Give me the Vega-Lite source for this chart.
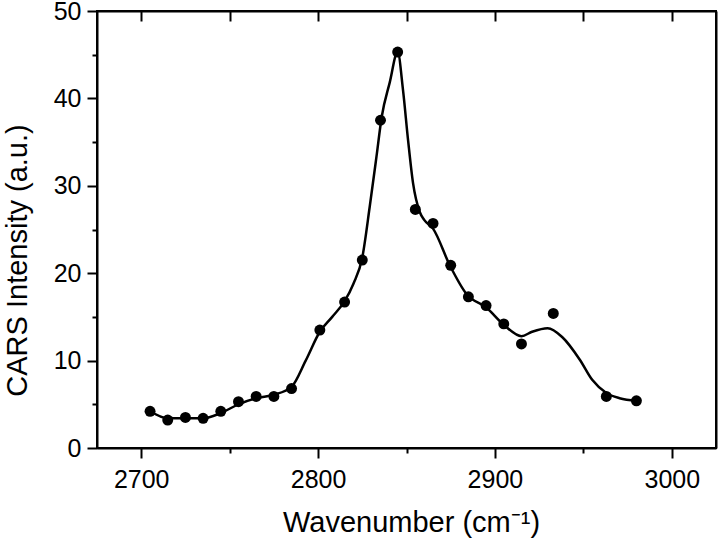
{
  "$schema": "https://vega.github.io/schema/vega-lite/v6.json",
  "width": 619,
  "height": 437,
  "autosize": {"type": "none"},
  "padding": {"left": 97, "top": 11, "right": 4, "bottom": 92},
  "background": "white",
  "config": {
    "view": {"stroke": "black", "strokeWidth": 2},
    "font": "Liberation Sans",
    "axis": {
      "domainColor": "black", "domainWidth": 2, "tickColor": "black", "tickWidth": 2,
      "labelColor": "black", "titleColor": "black", "labelFont": "Liberation Sans", "titleFont": "Liberation Sans",
      "labelFontSize": 25, "titleFontSize": 29, "titleFontWeight": "normal", "grid": false
    }
  },
  "datasets": {
    "pts": [
      {"x": 2705, "y": 4.2}, {"x": 2715, "y": 3.2}, {"x": 2725, "y": 3.5}, {"x": 2735, "y": 3.4},
      {"x": 2745, "y": 4.2}, {"x": 2755, "y": 5.3}, {"x": 2765, "y": 5.9}, {"x": 2775, "y": 5.9},
      {"x": 2785, "y": 6.8}, {"x": 2801, "y": 13.5}, {"x": 2815, "y": 16.7}, {"x": 2825, "y": 21.5},
      {"x": 2835.3, "y": 37.5}, {"x": 2845, "y": 45.3}, {"x": 2855, "y": 27.3}, {"x": 2865, "y": 25.7},
      {"x": 2875, "y": 20.9}, {"x": 2885, "y": 17.3}, {"x": 2895, "y": 16.3}, {"x": 2905, "y": 14.2},
      {"x": 2915, "y": 11.9}, {"x": 2933, "y": 15.4}, {"x": 2963, "y": 5.9}, {"x": 2980, "y": 5.4}
    ],
    "fit": [
      {"x": 2705, "y": 4.2}, {"x": 2715, "y": 3.4}, {"x": 2725, "y": 3.4}, {"x": 2735, "y": 3.4},
      {"x": 2745, "y": 4.0}, {"x": 2755, "y": 5.0}, {"x": 2765, "y": 5.7}, {"x": 2775, "y": 6.1},
      {"x": 2785, "y": 7.0}, {"x": 2793, "y": 10.0}, {"x": 2801, "y": 13.3}, {"x": 2808, "y": 15.0},
      {"x": 2815, "y": 16.8}, {"x": 2820, "y": 18.8}, {"x": 2825, "y": 21.8}, {"x": 2829.2, "y": 27.6},
      {"x": 2833, "y": 33.3}, {"x": 2836, "y": 37.9}, {"x": 2840.5, "y": 41.8}, {"x": 2845, "y": 45.3},
      {"x": 2848, "y": 41.0}, {"x": 2850.9, "y": 35.2}, {"x": 2853.7, "y": 30.3}, {"x": 2857.5, "y": 27.0},
      {"x": 2860, "y": 26.1}, {"x": 2865, "y": 25.1}, {"x": 2874.5, "y": 20.9}, {"x": 2884, "y": 17.6},
      {"x": 2895, "y": 16.1}, {"x": 2905, "y": 14.1}, {"x": 2915, "y": 12.8}, {"x": 2921, "y": 13.3},
      {"x": 2929.8, "y": 13.7}, {"x": 2938, "y": 12.7}, {"x": 2948, "y": 10.1}, {"x": 2955, "y": 7.8},
      {"x": 2963, "y": 6.3}, {"x": 2970.5, "y": 5.7}, {"x": 2980, "y": 5.4}
    ]
  },
  "resolve": {"axis": {"x": "independent", "y": "independent"}},
  "layer": [
    {
      "data": {"name": "fit"},
      "mark": {"type": "line", "color": "black", "strokeWidth": 2.5, "interpolate": "monotone"},
      "encoding": {
        "x": {"field": "x", "type": "quantitative", "scale": {"domain": [2675, 3025], "nice": false, "zero": false},
          "axis": {"title": "Wavenumber (cm⁻¹)", "values": [2700, 2750, 2800, 2850, 2900, 2950, 3000],
            "labelExpr": "datum.value % 100 === 0 ? datum.label : ''", "format": "d",
            "tickSize": {"condition": {"test": "datum.value % 100 === 0", "value": 10}, "value": 5},
            "labelPadding": 9, "titlePadding": 16, "titleX": 314, "labelFlush": false}},
        "y": {"field": "y", "type": "quantitative", "scale": {"domain": [0, 50], "nice": false},
          "axis": {"title": "CARS Intensity (a.u.)", "values": [0, 5, 10, 15, 20, 25, 30, 35, 40, 45, 50],
            "labelExpr": "datum.value % 10 === 0 ? datum.label : ''",
            "tickSize": {"condition": {"test": "datum.value % 10 === 0", "value": 10}, "value": 5},
            "labelPadding": 6, "titlePadding": 21, "titleY": 249, "labelFlush": false}}
      }
    },
    {
      "data": {"name": "pts"},
      "mark": {"type": "circle", "color": "black", "opacity": 1, "size": 120},
      "encoding": {
        "x": {"field": "x", "type": "quantitative",
          "axis": {"orient": "top", "title": null, "labels": false, "values": [2700, 2750, 2800, 2850, 2900, 2950, 3000], "tickSize": -10, "domain": true}},
        "y": {"field": "y", "type": "quantitative",
          "axis": {"orient": "right", "title": null, "labels": false, "ticks": false, "domain": true}}
      }
    }
  ]
}
